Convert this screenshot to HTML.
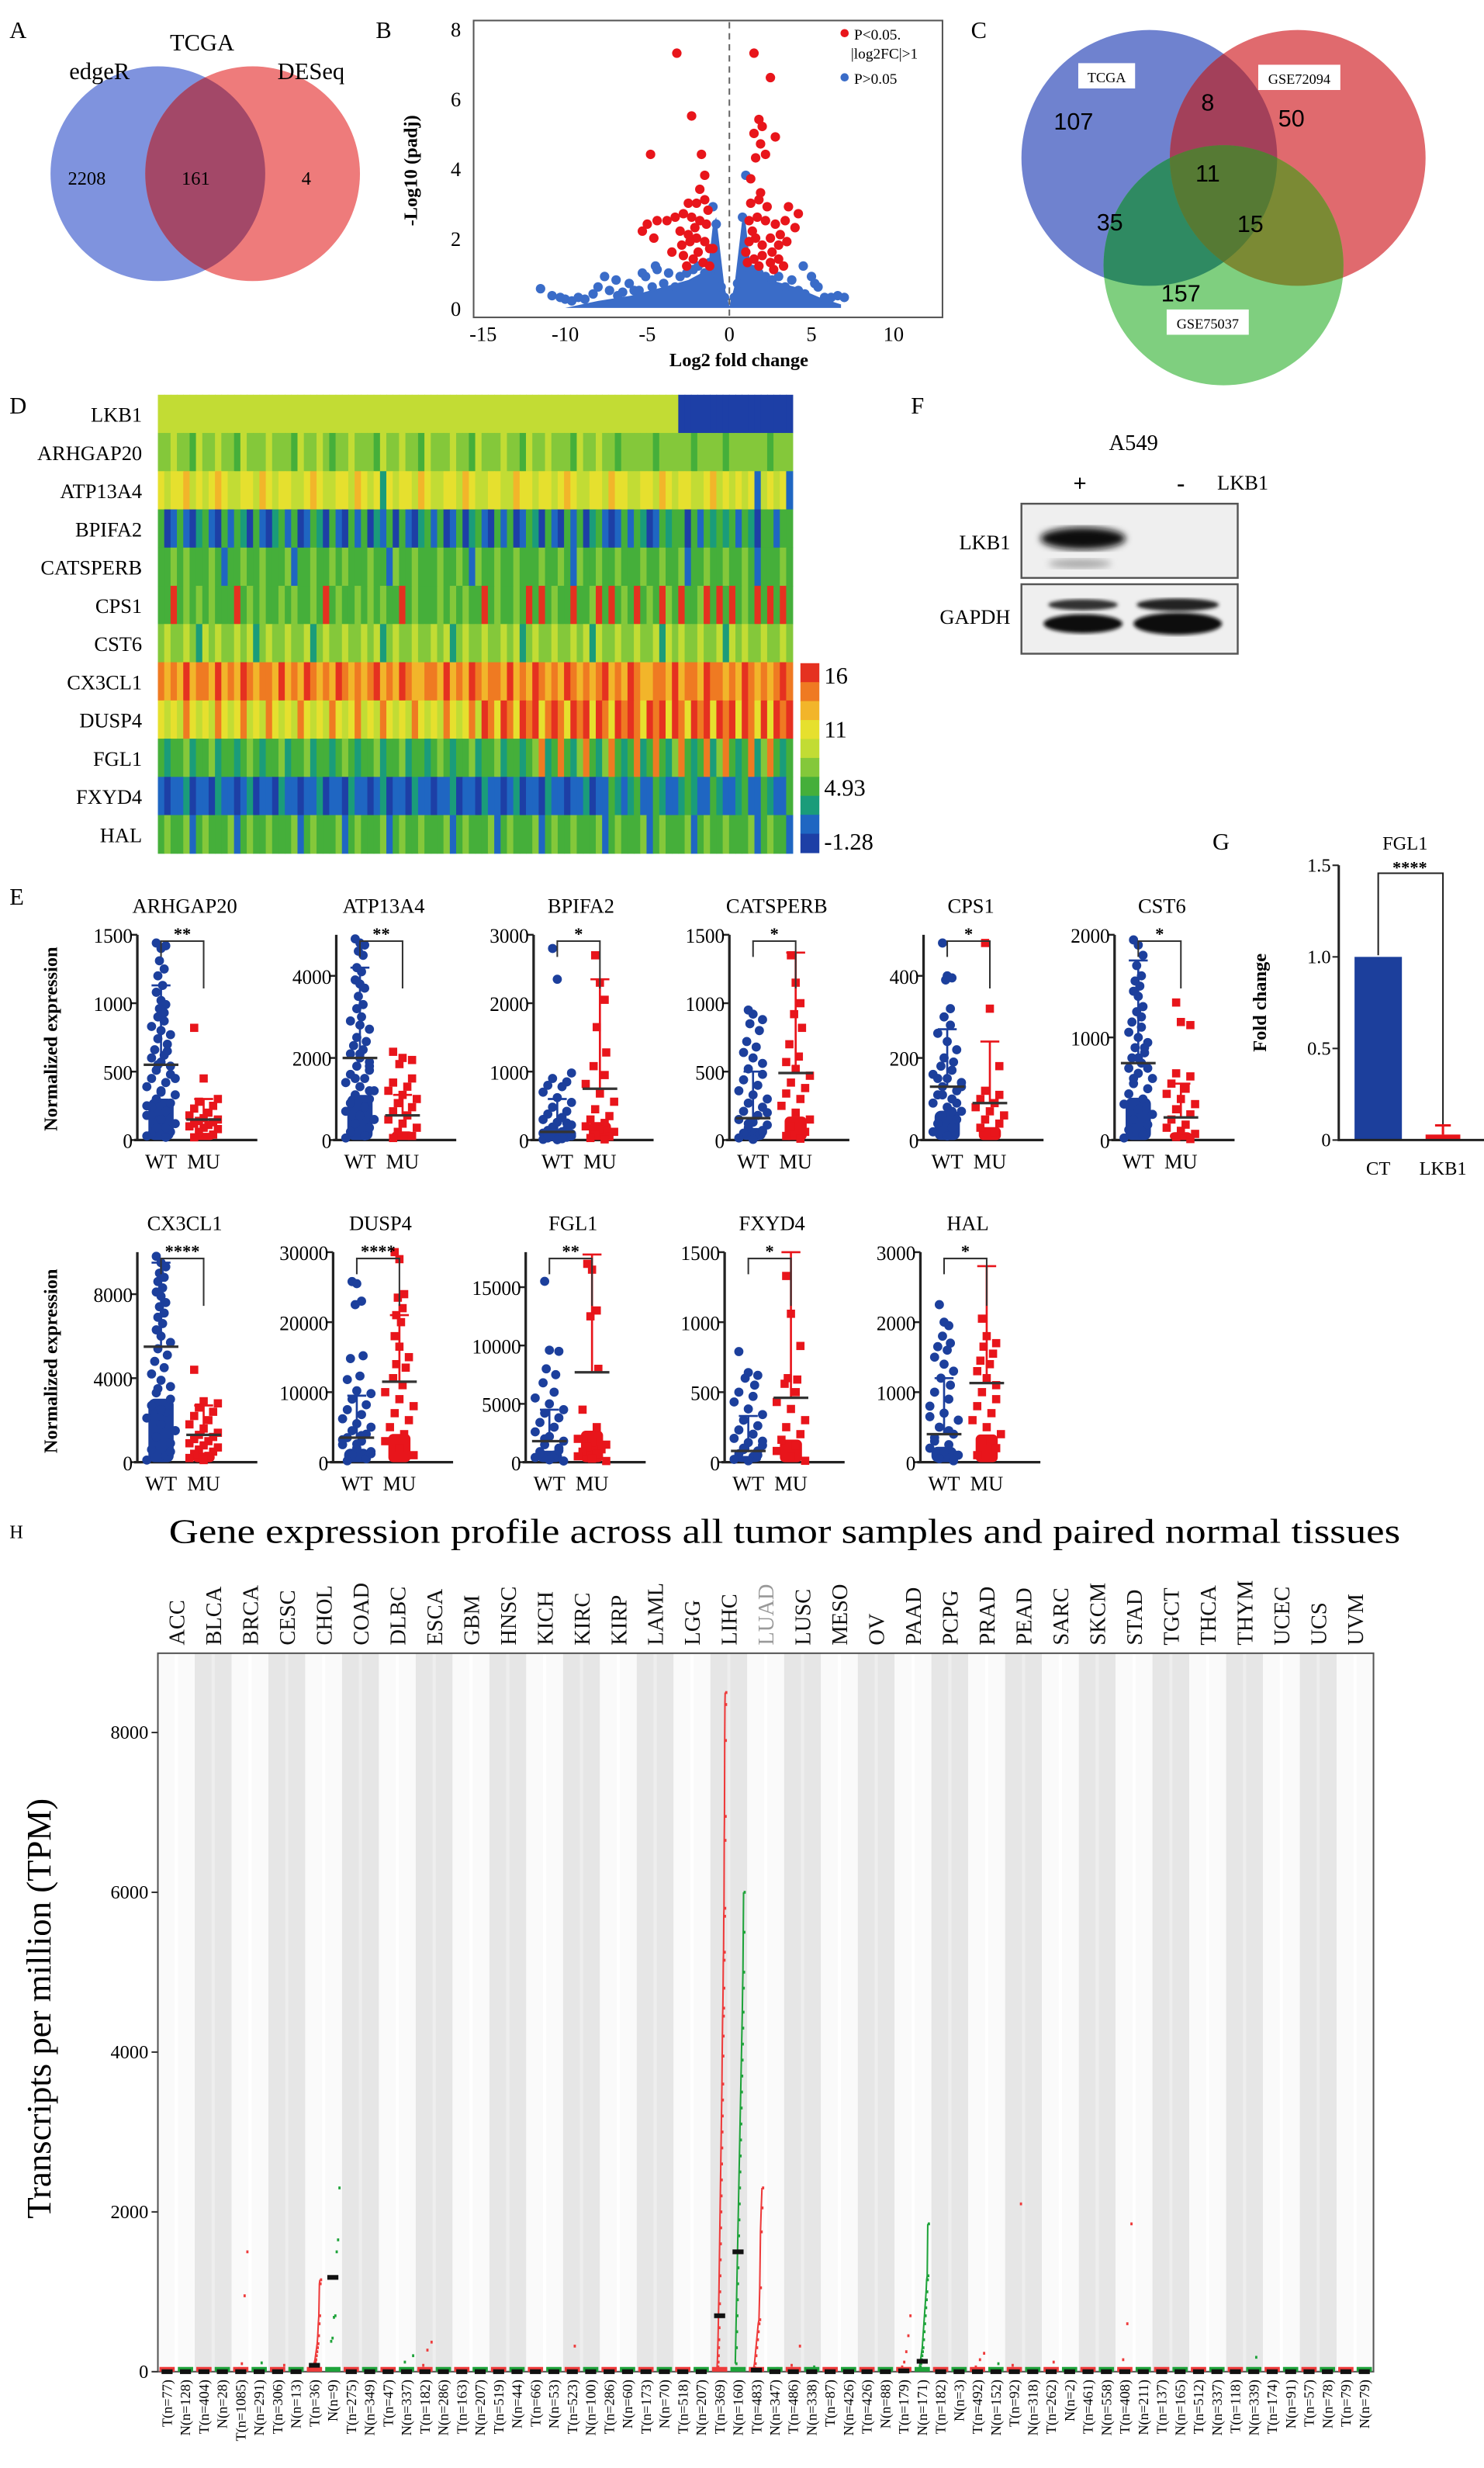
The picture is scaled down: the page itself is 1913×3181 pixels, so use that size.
<!DOCTYPE html>
<html><head><meta charset="utf-8"><title>LKB1 figure</title>
<style>
html,body{margin:0;padding:0;background:#fff;}
svg{display:block;font-family:"Liberation Serif","Times New Roman",serif;}
</style></head>
<body>
<svg id="fig" xmlns="http://www.w3.org/2000/svg" width="1913" height="3181" viewBox="0 0 940 1563" preserveAspectRatio="none">
<defs>
 <clipPath id="cA-blue"><circle cx="100" cy="110" r="68"/></clipPath>
 <clipPath id="cC-blue"><circle cx="728" cy="100" r="81"/></clipPath>
 <clipPath id="cC-red"><circle cx="822" cy="100" r="81"/></clipPath>
 <clipPath id="cC-green"><circle cx="775" cy="168" r="76"/></clipPath>
 <filter id="blur2"><feGaussianBlur stdDeviation="2.2"/></filter>
 <filter id="blur1"><feGaussianBlur stdDeviation="1.2"/></filter>
</defs>
<rect x="0" y="0" width="940" height="1563" fill="#fff"/>

<!-- Panel A -->
<g>
 <text x="6" y="24" font-size="15">A</text>
 <circle cx="100" cy="110" r="68" fill="#7f93de"/>
 <circle cx="160" cy="110" r="68" fill="#ee7b7b"/>
 <circle cx="160" cy="110" r="68" fill="#a34868" clip-path="url(#cA-blue)"/>
 <text x="63" y="50" font-size="15" text-anchor="middle">edgeR</text>
 <text x="128" y="32" font-size="15" text-anchor="middle">TCGA</text>
 <text x="197" y="50" font-size="15" text-anchor="middle">DESeq</text>
 <text x="55" y="117" font-size="12" text-anchor="middle">2208</text>
 <text x="124" y="117" font-size="12" text-anchor="middle">161</text>
 <text x="194" y="117" font-size="12" text-anchor="middle">4</text>
</g>

<!-- Panel B -->
<g id="volcano">
 <text x="238" y="24" font-size="15">B</text>
 <rect x="300" y="13" width="297" height="188" fill="none" stroke="#555" stroke-width="1"/>
 <text transform="translate(264,108) rotate(-90)" font-size="12" font-weight="bold" text-anchor="middle">-Log10 (padj)</text>
 <text x="468" y="232" font-size="12" font-weight="bold" text-anchor="middle">Log2 fold change</text>
 <circle cx="535" cy="21" r="2.6" fill="#e8151b"/>
 <text x="541" y="25" font-size="9.5">P&lt;0.05.</text>
 <text x="539" y="37" font-size="9.5">|log2FC|&gt;1</text>
 <circle cx="535" cy="49" r="2.6" fill="#3a6cc8"/>
 <text x="541" y="53" font-size="9.5">P&gt;0.05</text>
</g>

<!-- Panel C -->
<g>
 <text x="615" y="24" font-size="15">C</text>
 <circle cx="728" cy="100" r="81" fill="#6f82cf"/>
 <circle cx="822" cy="100" r="81" fill="#e06a6e"/>
 <circle cx="775" cy="168" r="76" fill="#7fcf7f"/>
 <circle cx="822" cy="100" r="81" fill="#a3405a" clip-path="url(#cC-blue)"/>
 <circle cx="775" cy="168" r="76" fill="#2f8a62" clip-path="url(#cC-blue)"/>
 <circle cx="775" cy="168" r="76" fill="#7b8a34" clip-path="url(#cC-red)"/>
 <g clip-path="url(#cC-blue)"><circle cx="822" cy="100" r="81" fill="#567a34" clip-path="url(#cC-green)"/></g>
 <rect x="683" y="40" width="36" height="16" fill="#fff"/>
 <text x="701" y="52" font-size="9" text-anchor="middle">TCGA</text>
 <rect x="797" y="41" width="52" height="16" fill="#fff"/>
 <text x="823" y="53" font-size="9" text-anchor="middle">GSE72094</text>
 <rect x="739" y="196" width="52" height="16" fill="#fff"/>
 <text x="765" y="208" font-size="9" text-anchor="middle">GSE75037</text>
 <g font-family="Liberation Sans, sans-serif" font-size="15" text-anchor="middle">
  <text x="680" y="82">107</text>
  <text x="765" y="70">8</text>
  <text x="818" y="80">50</text>
  <text x="765" y="115">11</text>
  <text x="703" y="146">35</text>
  <text x="792" y="147">15</text>
  <text x="748" y="191">157</text>
 </g>
</g>

<!-- Panel D -->
<g id="heat">
 <text x="6" y="262" font-size="15">D</text>
</g>

<!-- Panel F -->
<g>
 <text x="577" y="262" font-size="15">F</text>
 <text x="718" y="285" font-size="14" text-anchor="middle">A549</text>
 <text x="684" y="311" font-size="15" font-weight="bold" text-anchor="middle">+</text>
 <text x="748" y="311" font-size="15" font-weight="bold" text-anchor="middle">-</text>
 <text x="771" y="310" font-size="13">LKB1</text>
 <rect x="647" y="319" width="137" height="47" fill="#efefef" stroke="#555" stroke-width="1.2"/>
 <rect x="647" y="370" width="137" height="44" fill="#efefef" stroke="#555" stroke-width="1.2"/>
 <ellipse cx="686" cy="341" rx="27" ry="7" fill="#111" filter="url(#blur2)"/>
 <ellipse cx="684" cy="357" rx="20" ry="3" fill="#aaa" filter="url(#blur2)"/>
 <ellipse cx="686" cy="383" rx="22" ry="3.5" fill="#333" filter="url(#blur1)"/>
 <ellipse cx="746" cy="383" rx="26" ry="4" fill="#222" filter="url(#blur1)"/>
 <ellipse cx="686" cy="395" rx="25" ry="6" fill="#111" filter="url(#blur1)"/>
 <ellipse cx="746" cy="395" rx="28" ry="7" fill="#0a0a0a" filter="url(#blur1)"/>
 <text x="640" y="348" font-size="13" text-anchor="end">LKB1</text>
 <text x="640" y="395" font-size="13" text-anchor="end">GAPDH</text>
</g>

<!-- Panel G -->
<g id="barG">
 <text x="768" y="538" font-size="15">G</text>
 <text x="890" y="538" font-size="12" text-anchor="middle">FGL1</text>
 <text transform="translate(802,635) rotate(-90)" font-size="12" font-weight="bold" text-anchor="middle">Fold change</text>
</g>

<!-- Panel E -->
<g id="scat">
 <text x="6" y="573" font-size="15">E</text>
 <text transform="translate(36,658) rotate(-90)" font-size="12" font-weight="bold" text-anchor="middle">Normalized expression</text>
 <text transform="translate(36,862) rotate(-90)" font-size="12" font-weight="bold" text-anchor="middle">Normalized expression</text>
</g>

<!-- Panel H -->
<g id="tpm">
 <text x="6" y="974" font-size="12">H</text>
 <text x="497" y="977" font-size="22" text-anchor="middle" textLength="780" lengthAdjust="spacingAndGlyphs">Gene expression profile across all tumor samples and paired normal tissues</text>
 <text transform="translate(32,1272) rotate(-90)" font-size="22" text-anchor="middle">Transcripts per million (TPM)</text>
</g>
</svg>

<script>
const NS='http://www.w3.org/2000/svg';
function mk(tag,attrs,parent){const e=document.createElementNS(NS,tag);for(const k in attrs)e.setAttribute(k,attrs[k]);parent.appendChild(e);return e;}

/* ---------- Panel B data ---------- */
const volRedX=[-3.2,1.5,2.5,-2.3,1.8,2.0,1.5,2.8,1.9,-4.8,-1.7,2.2,1.6,-1.5,1.3,-2.5,-2.0,-1.5,1.3,1.8,3.6,4.2,-5.0,-4.4,-3.8,-3.3,-2.8,-2.3,-1.8,-1.4,1.2,1.7,2.2,2.8,3.4,4.0,-5.3,-4.6,-3.0,-2.5,-2.0,-1.5,-1.2,1.2,1.6,2.0,2.5,3.0,3.5,-3.5,-2.8,-2.2,-1.6,-1.2,1.1,1.5,2.0,2.5,3.0,3.3,1.8,-2.6,-1.9,2.7,-2.1,-1.3,1.4,2.3,-2.9,3.1,-1.8,1.9,2.6,-2.4,1.0,-1.0];
const volRedY=[7.3,7.3,6.6,5.5,5.4,5.2,5.0,4.9,4.7,4.4,4.4,4.4,4.3,3.8,3.7,3.0,3.0,3.1,3.0,3.1,2.9,2.7,2.4,2.5,2.5,2.6,2.7,2.6,2.5,2.4,2.5,2.6,2.5,2.4,2.5,2.3,2.2,2.0,2.2,2.1,2.0,1.9,1.7,1.9,2.0,1.8,2.0,1.8,1.9,1.6,1.5,1.4,1.3,1.2,1.3,1.4,1.5,1.3,1.4,1.2,1.2,1.2,1.6,1.1,2.3,2.8,2.2,2.9,1.8,2.1,3.4,3.3,1.6,1.9,1.6,1.7];
const volBlueX=[-11.5,-10.8,-10.3,-10.0,-9.6,-9.2,-8.8,-8.3,-8.0,-7.6,-7.3,-6.9,-6.5,-6.1,-5.8,-5.5,-5.1,-4.7,-4.4,-4.0,-3.7,-3.3,-3.0,-2.6,-2.2,-1.9,-1.5,-1.2,-0.9,-0.7,-0.5,-0.3,0.3,0.5,0.7,0.9,1.1,1.4,1.8,2.2,2.6,3.0,3.4,3.8,4.2,4.6,5.0,5.4,5.8,6.2,6.6,7.0,-6.8,-5.3,-4.5,4.5,5.2,1.0,-1.0,0.8,-0.8];
const volBlueY=[0.55,0.35,0.3,0.25,0.2,0.3,0.25,0.4,0.6,0.9,0.5,0.8,0.45,0.7,0.5,0.5,0.9,0.6,1.1,0.7,1.0,0.6,0.9,1.0,1.1,1.2,1.0,1.3,1.5,0.9,0.6,0.3,0.3,0.7,1.0,1.5,1.3,1.1,1.0,0.9,0.8,0.9,0.6,0.8,0.5,0.4,0.9,0.6,0.3,0.3,0.35,0.3,0.35,1.0,1.2,1.2,0.7,3.8,2.9,2.6,2.4];
const volMassX=[-10,-8,-6,-4,-2.5,-1.3,-1.0,-0.8,-0.3,0,0.3,0.8,1.0,1.3,2.5,4,5.5,6.8,6.8,-10];
const volMassY=[0,0.2,0.35,0.6,0.8,1.1,2.4,2.6,0.6,0.05,0.6,2.6,2.4,1.1,0.8,0.6,0.3,0.1,0,0];
const volXTicks=[-15,-10,-5,0,5,10];
const volYTicks=[0,2,4,6,8];
(function(){
 const g=document.getElementById('volcano');
 const X=v=>462+v*10.4, Y=v=>195-v*22.1;
 volXTicks.forEach(t=>{const e=mk('text',{x:X(t),y:216,'font-size':13,'text-anchor':'middle'},g);e.textContent=t;
 
 });
 volYTicks.forEach(t=>{const e=mk('text',{x:292,y:Y(t)+5,'font-size':13,'text-anchor':'end'},g);e.textContent=t;
 
 });
 const pts=volMassX.map((x,i)=>X(x)+','+Y(volMassY[i])).join(' ');
 const m=mk('polygon',{points:pts,fill:'#3a6cc8'},g);
 
 
 volBlueX.forEach((x,i)=>{const c=mk('circle',{cx:X(x),cy:Y(volBlueY[i]),r:3,fill:'#3a6cc8'},g);
 
 });
 volRedX.forEach((x,i)=>{const c=mk('circle',{cx:X(x),cy:Y(volRedY[i]),r:3,fill:'#e8151b'},g);
 
 });
 const d=mk('line',{x1:X(0),x2:X(0),y1:14,y2:200,stroke:'#666','stroke-dasharray':'4,3','stroke-width':1},g);
 
 
})();

/* ---------- Panel D data ---------- */
const heatGenes=['LKB1','ARHGAP20','ATP13A4','BPIFA2','CATSPERB','CPS1','CST6','CX3CL1','DUSP4','FGL1','FXYD4','HAL'];
const heatRows=[
'5555555555555555555555555555555555555555555555555555555555555555555555555555555555000000000000000000',
'4454435445443544454443544543445444354454435444544354445443544544435445443444443444443444434444443444',
'6566756567655665765665567655665765626566576556657655665576656656765566576655665765665567565656156561',
'3013102310313203102313013203103130213031023130130231031301320310313023101313201323303132323132033133',
'3343433343133433433341334334343334331433433343343143343343334334314334334333433433413343343343133343',
'3393434343339343433434334393433434343393433343434339343343939343393349393439343943933493939343939393',
'4544542545445452454454452454454454524544544545245445445452454454454525445445445254544544525454454454',
'8787978879787987887978798787987878978798778879787987887978798787987878978798778879788798878798787898',
'6565865658656856586565865658656856586565865658656859869869896898698969869898698969869896989698696989',
'3233423342332343233423342332343233423342332343233423342332348238324832483238238324832382483238248323',
'1011201102110120110211011201102110120110211011201102110120110211011201132123113211232113211231132113',
'3433413433341343343334134333413433341343343334134333413433341343343334134333413433341343343334134331'];
const heatColors=['#1d3fa6','#1f66c2','#1a9c7a','#45af3a','#84c83a','#c2dc34','#e6e02e','#f2b52a','#ef7a22','#e53120'];
(function(){
 const g=document.getElementById('heat');
 const x0=100,x1=502,y0=250,rh=24.2;
 heatRows.forEach((row,r)=>{
  const n=row.length,w=(x1-x0)/n;
  const lab=mk('text',{x:90,y:y0+r*rh+rh/2+5,'font-size':13,'text-anchor':'end'},g);lab.textContent=heatGenes[r];
  
  
  for(let i=0;i<n;i++){
   const c=mk('rect',{x:x0+i*w,y:y0+r*rh,width:w+0.4,height:rh+0.3,fill:heatColors[+row[i]]},g);
   
   
  }
 });
 const cb=[9,8,7,6,5,4,3,2,1,0];
 cb.forEach((k,i)=>{const c=mk('rect',{x:507,y:420+i*12,width:12,height:12.3,fill:heatColors[k]},g);
 
 });
 const cbLabels=['16','11','4.93','-1.28'];const cbY=[433,467,504,538];
 cbLabels.forEach((t,i)=>{const e=mk('text',{x:522,y:cbY[i],'font-size':15},g);e.textContent=t;
 
 });
})();

/* ---------- Panel G data ---------- */
const barCats=['CT','LKB1'];
const barVals=[1.0,0.03];
const barErr=[0,0.05];
const barTicks=[0,0.5,1.0,1.5];
(function(){
 const g=document.getElementById('barG');
 const Y=v=>722-v*116, ax=848;
 const cols=['#1c3f9c','#e8151b'], cx=[873,914], bw=[30,22];
 barCats.forEach((c,i)=>{
  const r=mk('rect',{x:cx[i]-bw[i]/2,y:Y(barVals[i]),width:bw[i],height:722-Y(barVals[i]),fill:cols[i]},g);
  
  
  if(barErr[i]>0){const e=mk('path',{d:`M${cx[i]} ${Y(barVals[i])}V${Y(barVals[i]+barErr[i])}M${cx[i]-5} ${Y(barVals[i]+barErr[i])}H${cx[i]+5}`,stroke:cols[i],'stroke-width':1.5,fill:'none'},g);
  
  }
  const t=mk('text',{x:cx[i],y:744,'font-size':12,'text-anchor':'middle'},g);t.textContent=c;
  
  
 });
 const a=mk('path',{d:`M${ax} ${Y(1.5)}V722H940`,stroke:'#222','stroke-width':1.5,fill:'none'},g);
 
 
 barTicks.forEach(t=>{const l=mk('line',{x1:ax-4,x2:ax,y1:Y(t),y2:Y(t),stroke:'#222'},g);
 
 
 const e=mk('text',{x:ax-5,y:Y(t)+4,'font-size':12,'text-anchor':'end'},g);e.textContent=t.toFixed(t%1?1:(t===0?0:1));
 
 });
 const b=mk('path',{d:`M${cx[0]} 605V553H${cx[1]}V712`,stroke:'#222',fill:'none','stroke-width':1},g);
 
 
 const s=mk('text',{x:893,y:553,'font-size':11,'font-weight':'bold','text-anchor':'middle'},g);s.textContent='****';
 
 
})();

/* ---------- Panel E data ---------- */
const eGenes=['ARHGAP20','ATP13A4','BPIFA2','CATSPERB','CPS1','CST6','CX3CL1','DUSP4','FGL1','FXYD4','HAL'];
const eMax=[1500,5000,3000,1500,500,2000,10000,30000,18000,1500,3000];
const eTicks=[[0,500,1000,1500],[0,2000,4000],[0,1000,2000,3000],[0,500,1000,1500],[0,200,400],[0,1000,2000],[0,4000,8000],[0,10000,20000,30000],[0,5000,10000,15000],[0,500,1000,1500],[0,1000,2000,3000]];
const eSig=['**','**','*','*','*','*','****','****','**','*','*'];
const eWT=[
[1440,1400,1420,1310,1250,1200,1130,1080,1020,990,960,930,900,870,830,800,770,740,700,660,620,600,570,540,510,480,450,420,390,360,330,300,270,240,210,180,150,120,90,60,40,20,250,350,450,550,650,180,90,30],
[4900,4800,4750,4600,4500,4200,4100,3900,3800,3700,3500,3300,3200,3000,2900,2800,2700,2500,2400,2300,2200,2100,2000,1900,1800,1700,1600,1500,1400,1300,1200,1100,1000,900,800,700,600,500,400,300,200,100,50,2100,1800,1500,1200,900],
[2800,2350,980,900,850,800,780,700,620,550,480,420,380,330,300,260,220,190,160,140,120,100,80,60,50,40,30,20,10,5,90,150,250,70],
[950,920,880,850,800,720,680,640,600,560,520,480,440,400,360,330,300,270,240,210,180,150,130,110,90,70,50,30,15,5,200,120,60],
[480,400,395,390,320,300,280,260,240,220,200,190,180,170,160,150,140,130,120,110,100,90,80,70,60,50,40,30,20,10,130,110,90,150,70],
[1950,1900,1800,1700,1600,1550,1500,1450,1400,1300,1250,1200,1150,1100,1050,1000,950,900,850,800,750,700,650,600,550,500,450,400,350,300,250,200,150,100,50,20,800,700,600,900],
[9800,9500,9300,9000,8800,8600,8300,8100,7900,7600,7400,7100,6900,6600,6300,6000,5700,5400,5100,4800,4500,4200,3900,3600,3300,3000,2700,2400,2100,1800,1500,1200,900,600,300,100,2500,1500,3500,500],
[25800,25500,23000,22500,15200,14800,12300,11800,10200,9800,9000,8200,7500,6800,6200,5500,5000,4500,4000,3500,3000,2500,2000,1500,1000,500,200,3800,3200,2600,1200],
[15500,9600,9500,8000,7500,6800,6000,5500,5000,4500,4200,3800,3400,3000,2600,2200,1800,1500,1200,900,600,400,200,100,2000,1000,700],
[790,640,620,600,550,500,470,430,380,340,300,260,230,200,170,140,120,100,80,60,40,20,10,150,90,50],
[2250,2000,1950,1800,1700,1650,1600,1500,1400,1300,1200,1100,1000,900,800,700,600,500,400,300,250,200,150,100,50,20,350,450,650]];
const eMU=[
[820,450,300,280,250,230,200,180,160,150,140,130,120,110,100,90,80,60,40,20],
[2150,2000,1950,1850,1500,1400,1300,1200,1100,1000,900,800,700,600,500,400,300,200,100,50],
[2700,2300,2050,1650,1280,1080,950,820,680,560,450,350,300,250,200,160,120,80,50,30,10],
[1350,1150,1000,920,820,700,610,570,520,470,420,380,340,300,250,200,150,100,60,30,10],
[480,320,180,120,110,100,90,80,70,60,50,40,30,20],
[1340,1150,1120,650,620,550,500,450,400,350,300,250,200,150,120,90,60,30,10],
[4400,2900,2800,2600,2400,2200,2000,1800,1600,1400,1300,1200,1100,1000,900,800,700,600,500,400,300,200,100],
[30000,29000,24000,23500,22000,21000,20000,18000,16500,15000,14000,13500,12000,11000,10000,9000,8000,7000,6000,5000,4000,3000,2000,1000],
[17000,16500,13000,12500,8000,4500,3000,2000,1700,1500,1300,1100,900,700,500,300,100],
[1330,1060,830,600,590,560,500,430,380,300,250,200,160,120,80,40,10],
[2050,1800,1700,1650,1550,1450,1400,1300,1200,1100,1000,900,800,700,600,500,400,300,200,100]];
const eMean=[[550,150],[2000,600],[120,750],[160,490],[130,90],[750,220],[5500,1300],[3500,11500],[1800,7700],[80,460],[400,1130]];
const eSdTop=[[1130,300],[4200,1100],[600,2350],[500,1370],[270,240],[1750,550],[9500,2700],[9500,21000],[4500,17800],[330,1500],[1200,2800]];
(function(){
 const g=document.getElementById('scat');
 const axX=[87,213,338,462,585,706,87,211,333,459,583];
 const y0s=[722,722,722,722,722,722,926,926,926,926,926];
 const tops=[592,592,592,592,592,592,793,793,793,793,793];
 eGenes.forEach((gene,p)=>{
  const ax=axX[p],y0=y0s[p],top=tops[p],mx=eMax[p];
  const Y=v=>y0-(v/mx)*(y0-top);
  const wx=ax+15,mxu=ax+42;
  const t=mk('text',{x:ax+30,y:top-14,'font-size':13,'text-anchor':'middle'},g);t.textContent=gene;
  
  
  const a=mk('path',{d:`M${ax} ${top}V${y0}M${ax-2} ${y0}H${ax+76}`,stroke:'#222','stroke-width':1.6,fill:'none'},g);
  
  
  eTicks[p].forEach(tv=>{
   const l=mk('line',{x1:ax-4,x2:ax,y1:Y(tv),y2:Y(tv),stroke:'#222','stroke-width':1.2},g);
   
   
   const e=mk('text',{x:ax-3,y:Y(tv)+5,'font-size':13,'text-anchor':'end',textLength:(String(tv).length*6.2),lengthAdjust:'spacingAndGlyphs'},g);e.textContent=tv;
   
   
  });
  const draw=(vals,cx,col,sq,name)=>{
   vals.forEach((v,i)=>{
    const frac=v/mx, spread=frac<0.35?9:(frac<0.6?6:3);
    const off=(((i*3)%7)-3)/3*spread;
    let e;
    if(sq){e=mk('rect',{x:cx+off-2.6,y:Y(v)-2.6,width:5.2,height:5.2,fill:col},g);}
    else{e=mk('circle',{cx:cx+off,cy:Y(v),r:2.9,fill:col},g);}
    
    
   });
  };
  const bw=mk('rect',{x:wx-8,y:Y(eMean[p][0]*0.55),width:16,height:y0-Y(eMean[p][0]*0.55),fill:'#1c3f9c',rx:4},g);
  
  
  const bm=mk('rect',{x:mxu-7,y:Y(eMean[p][1]*0.35),width:14,height:y0-Y(eMean[p][1]*0.35),fill:'#e8151b',rx:3},g);
  
  
  draw(eWT[p],wx,'#1c3f9c',false,'wt-point');
  draw(eMU[p],mxu,'#e8151b',true,'mu-point');
  [[wx,0,'#1c3f9c'],[mxu,1,'#e8151b']].forEach(([cx,k,col])=>{
   const sd=mk('path',{d:`M${cx} ${Y(eSdTop[p][k])}V${Y(eMean[p][k])}M${cx-6} ${Y(eSdTop[p][k])}H${cx+6}`,stroke:col,'stroke-width':1.3,fill:'none'},g);
   
   
   const mn=mk('line',{x1:cx-11,x2:cx+11,y1:Y(eMean[p][k]),y2:Y(eMean[p][k]),stroke:'#333','stroke-width':1.6},g);
   
   
  });
  const br=mk('path',{d:`M${wx} ${top+14}V${top+4}H${mxu}V${top+34}`,stroke:'#333','stroke-width':1,fill:'none'},g);
  
  
  const st=mk('text',{x:(wx+mxu)/2,y:top+3,'font-size':11,'font-weight':'bold','text-anchor':'middle'},g);st.textContent=eSig[p];
  
  
  ['WT','MU'].forEach((lbl,k)=>{const e=mk('text',{x:k?mxu:wx,y:y0+18,'font-size':13,'text-anchor':'middle'},g);e.textContent=lbl;
   
   });
 });
})();

/* ---------- Panel H data ---------- */
const hCats=['ACC','BLCA','BRCA','CESC','CHOL','COAD','DLBC','ESCA','GBM','HNSC','KICH','KIRC','KIRP','LAML','LGG','LIHC','LUAD','LUSC','MESO','OV','PAAD','PCPG','PRAD','PEAD','SARC','SKCM','STAD','TGCT','THCA','THYM','UCEC','UCS','UVM'];
const hSampleLabels=['T(n=77)','N(n=128)','T(n=404)','N(n=28)','T(n=1085)','N(n=291)','T(n=306)','N(n=13)','T(n=36)','N(n=9)','T(n=275)','N(n=349)','T(n=47)','N(n=337)','T(n=182)','N(n=286)','T(n=163)','N(n=207)','T(n=519)','N(n=44)','T(n=66)','N(n=53)','T(n=523)','N(n=100)','T(n=286)','N(n=60)','T(n=173)','N(n=70)','T(n=518)','N(n=207)','T(n=369)','N(n=160)','T(n=483)','N(n=347)','T(n=486)','N(n=338)','T(n=87)','N(n=426)','T(n=426)','N(n=88)','T(n=179)','N(n=171)','T(n=182)','N(n=3)','T(n=492)','N(n=152)','T(n=92)','N(n=318)','T(n=262)','N(n=2)','T(n=461)','N(n=558)','T(n=408)','N(n=211)','T(n=137)','N(n=165)','T(n=512)','N(n=337)','T(n=118)','N(n=339)','T(n=174)','N(n=91)','T(n=57)','N(n=78)','T(n=79)','N(n=79)'];
const hTicks=[0,2000,4000,6000,8000];
const hTumor=[[],[],[1500,950,100,40],[80,30],[1150,1100,700,600,450,350,300,250,200,150,120,100,80,60,40,20],[],[],[370,270,80],[],[],[],[320],[],[],[],[8500,8350,7900,6950,6650,5800,5700,5250,5150,4800,4550,4450,4200,3950,3600,3400,3200,3000,2800,2600,2400,2200,2000,1800,1600,1400,1200,1000,850,700,550,400,300,200,120,60,20],[2300,2050,1750,1050,650,600,500,400,300,200,100,50],[320,80],[],[],[700,450,250,120,60],[],[230,150,60],[2100,80],[120],[],[1850,600,150],[],[],[],[],[],[]];
const hNormal=[[],[],[110],[],[2300,1650,1500,700,680,420,380],[],[200,120],[],[],[],[],[],[],[],[],[6000,5500,5000,4800,4500,4300,4100,3900,3700,3500,3300,3100,2900,2700,2500,2300,2100,1900,1700,1500,1300,1100,900,700,500,300,100],[40],[60],[],[],[1850,1200,1150,1000,900,800,700,600,500,400,300,250,200,150,100,60],[],[100],[],[],[],[],[],[],[180],[],[],[]];
const hMedT=[0,0,0,0,80,0,0,0,0,0,0,0,0,0,0,700,20,0,0,0,10,0,0,0,0,0,0,0,0,0,0,0,0];
const hMedN=[0,0,0,0,1180,0,0,0,0,0,0,0,0,0,0,1500,0,0,0,0,130,0,0,0,0,0,0,0,0,0,0,0,0];
(function(){
 const g=document.getElementById('tpm');
 const x0=100,x1=870,yb=1502,yt=1047;
 const Y=v=>yb-v*0.0506;
 const cw=(x1-x0)/hCats.length;
 hCats.forEach((c,i)=>{
  const b=mk('rect',{x:x0+i*cw,y:yt,width:cw,height:yb-yt,fill:i%2?'#e6e6e6':'#fafafa'},g);
  
  
  const ln=mk('line',{x1:x0+i*cw+cw/2,x2:x0+i*cw+cw/2,y1:yt,y2:yb,stroke:i%2?'#eeeeee':'#ffffff','stroke-width':2},g);
  
  
  const t=mk('text',{transform:`translate(${x0+i*cw+cw/2+5},1042) rotate(-90)`,'font-size':14,fill:c==='LUAD'?'#999':'#111'},g);t.textContent=c;
  
  
 });
 const fr=mk('rect',{x:x0,y:yt,width:x1-x0,height:yb-yt,fill:'none',stroke:'#555','stroke-width':1},g);
 
 
 hTicks.forEach(t=>{
  const l=mk('line',{x1:x0-4,x2:x0,y1:Y(t),y2:Y(t),stroke:'#333'},g);
  
  
  const e=mk('text',{x:x0-6,y:Y(t)+4,'font-size':12,'text-anchor':'end'},g);e.textContent=t;
  
  
 });
 const drawGroup=(vals,med,left,col,name)=>{
  const sw=cw/2;
  const base=mk('rect',{x:left+1,y:yb-3,width:sw-2,height:3,fill:col},g);
  
  
  const sorted=vals.slice().sort((a,b)=>a-b);
  sorted.forEach((v,k)=>{
   const fx=sorted.length>1?k/(sorted.length-1):0.5;
   const c=mk('rect',{x:left+sw*0.35+fx*sw*0.45,y:Y(v)-0.9,width:1.4,height:1.8,fill:col},g);
   
   
  });
  if(sorted.length>8){
   const pts=sorted.map((v,k)=>`${left+sw*0.35+k/(sorted.length-1)*sw*0.45},${Y(v)}`).join(' ');
   const pl=mk('polyline',{points:pts,fill:'none',stroke:col,'stroke-width':1},g);
   
   
  }
  const m=mk('rect',{x:left+sw*0.2,y:Y(med)-1.5,width:sw*0.6,height:3,fill:'#111'},g);
  
  
 };
 hCats.forEach((c,i)=>{
  drawGroup(hTumor[i],hMedT[i],x0+i*cw,'#ee3a3a','tpm-tumor');
  drawGroup(hNormal[i],hMedN[i],x0+i*cw+cw/2,'#1ea33a','tpm-normal');
 });
 const lw=(x1-x0)/hSampleLabels.length;
 hSampleLabels.forEach((s,i)=>{
  const t=mk('text',{transform:`translate(${x0+i*lw+lw/2+3},1507) rotate(-90)`,'font-size':9,'text-anchor':'end'},g);t.textContent=s;
  
  
 });
})();
</script>
</body></html>
